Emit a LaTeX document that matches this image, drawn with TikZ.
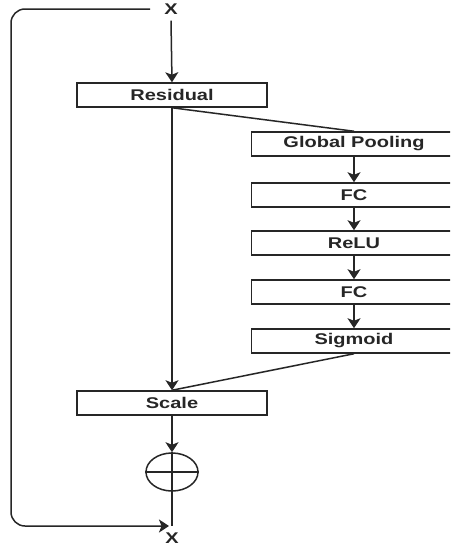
\documentclass[tikz,border=0pt]{standalone}
\usepackage{fontspec}
\setmainfont{Liberation Sans}
\usetikzlibrary{arrows.meta,shapes.geometric}
\newcommand{\wide}[1]{\scalebox{1.29}[1]{#1}}
\tikzset{
  ink/.style={draw=black!85, line width=1.5pt},
  block/.style={ink, rectangle, minimum height=24pt, inner sep=0pt,
    font=\fontsize{15.5}{18}\selectfont\bfseries, text=black!85},
  mainblock/.style={block, minimum width=190pt},
  sideblock/.style={block, minimum width=205pt},
  flow/.style={ink, -{Stealth[length=10pt,width=13pt,inset=2.5pt]}},
  link/.style={ink},
  io/.style={font=\fontsize{15.5}{18}\selectfont\bfseries, text=black!85},
}
\begin{document}
\begin{tikzpicture}[x=1pt,y=-1pt]
\useasboundingbox (0,0) rectangle (450,546);
\clip (0,0) rectangle (450,546);
\fill[white] (0,0) rectangle (450,546);

% input and output labels
\node[io, inner xsep=14pt, inner ysep=6pt] (xin) at (171,9) {\wide{X}};
\node[io] (xout) at (172,538) {\wide{X}};
\coordinate (join) at (172,526);

% main path
\node[mainblock] (res) at (172,95) {\wide{Residual}};
\node[mainblock] (scale) at (172,403) {\wide{Scale}};
\node[ink, ellipse, minimum width=52pt, minimum height=38pt, inner sep=0pt] (sum) at (172,472) {};
\draw[link] (sum.west) -- (sum.east);
\draw[link] (sum.north) -- (sum.south);

% squeeze-and-excitation branch
\node[sideblock] (gp)  at (354,144) {\wide{Global Pooling}};
\node[sideblock] (fc1) at (354,195) {\wide{FC}};
\node[sideblock] (relu) at (354,243) {\wide{ReLU}};
\node[sideblock] (fc2) at (354,292) {\wide{FC}};
\node[sideblock] (sig) at (354,341) {\wide{Sigmoid}};

% connectors
\draw[flow] (xin.south) -- (res.north);
\draw[flow] (res.south) -- (scale.north);
\draw[link] (res.south) -- (gp.north);
\draw[flow] (gp.south) -- (fc1.north);
\draw[flow] (fc1.south) -- (relu.north);
\draw[flow] (relu.south) -- (fc2.north);
\draw[flow] (fc2.south) -- (sig.north);
\draw[link] (sig.south) -- (scale.north);
\draw[flow] (scale.south) -- (sum.north);
\draw[link] (sum.south) -- (join);

% identity shortcut
\draw[flow, rounded corners=14pt, shorten >=3pt] (xin.west) -- (11,9) -- (11,526) -- (join);
\end{tikzpicture}
\end{document}
